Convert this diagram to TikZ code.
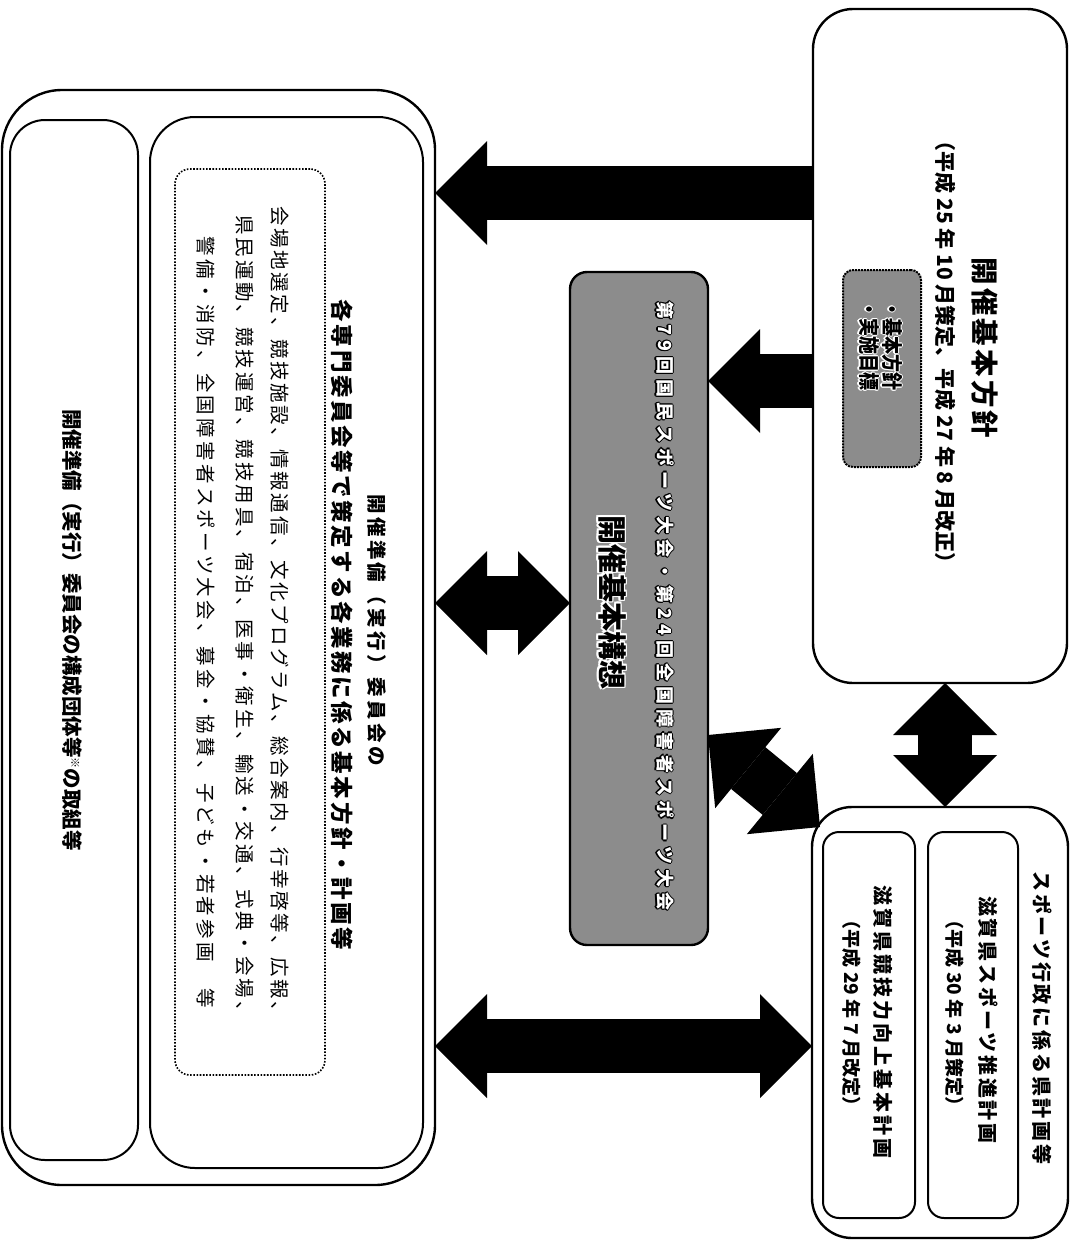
\documentclass[tikz,border=0pt]{standalone}
\usepackage{fontspec}
\setmainfont{Noto Sans CJK JP}
\usetikzlibrary{arrows.meta}
\newdimen\halod \newdimen\halodd
\newcommand\halo[4]{\begingroup\halod=#1\relax\halodd=0.7\halod
 \setbox0=\hbox{#4}%
 \def\hc##1##2{\rlap{\raisebox{##2}{\kern##1\textcolor{#2}{\copy0}}}}%
 \hc{\halod}{0pt}\hc{-\halod}{0pt}\hc{0pt}{\halod}\hc{0pt}{-\halod}%
 \hc{\halodd}{\halodd}\hc{-\halodd}{\halodd}\hc{\halodd}{-\halodd}\hc{-\halodd}{-\halodd}%
 \textcolor{#3}{\copy0}\endgroup}
\begin{document}
\begin{tikzpicture}[x=1pt,y=-1pt,
  box/.style={draw=black, line width=2.4pt, rounded corners=#1, inner sep=0pt, outer sep=0pt},
  box/.default=40pt,
  ibox/.style={box=#1, line width=2pt},
  gbox/.style={draw=black, line width=2pt, densely dotted, fill=black!45, rounded corners=10pt, inner sep=0pt, outer sep=0pt},
  cbox/.style={draw=black, line width=2.4pt, fill=black!45, rounded corners=17pt, inner sep=0pt, outer sep=0pt},
  dbox/.style={draw=black, line width=1.6pt, dash pattern=on 1.6pt off 1.6pt, rounded corners=15pt, inner sep=0pt, outer sep=0pt},
  txt/.style={rotate=-90, inner sep=0pt, font=\fontsize{#1}{#1}\selectfont},
  btxt/.style={rotate=-90, inner sep=0pt, font=\fontsize{#1}{#1}\bfseries\selectfont},
  lt/.style 2 args={rotate=-90, inner sep=0pt, font=\fontsize{#1}{#1}\selectfont\addfontfeatures{LetterSpace=#2}},
  blt/.style 2 args={rotate=-90, inner sep=0pt, font=\fontsize{#1}{#1}\bfseries\selectfont\addfontfeatures{LetterSpace=#2}},
  fat/.style={draw=black, line width=54pt},
  onearrow/.style={fat, -{Triangle[length=52pt,width=104pt,line width=0pt]}},
  twoarrow/.style={fat, {Triangle[length=52pt,width=104pt,line width=0pt]}-{Triangle[length=52pt,width=104pt,line width=0pt]}}
]
\useasboundingbox (0,0) rectangle (1077,1242);

% ---- boxes
\node[box=40pt, minimum width=254pt, minimum height=674pt] (TR) at (940,346) {};
\node[gbox, minimum width=78pt, minimum height=197pt] (G) at (882,368.5) {};
\node[box=40pt, minimum width=256pt, minimum height=431pt] (BR) at (940,1022.5) {};
\node[ibox=16pt, minimum width=90pt, minimum height=386pt] (I1) at (973,1025) {};
\node[ibox=16pt, minimum width=92pt, minimum height=386pt] (I2) at (869,1025) {};
\node[cbox, minimum width=138pt, minimum height=673pt] (C) at (639,608.5) {};
\node[box=60pt, minimum width=433pt, minimum height=1095pt] (LB) at (218.5,637.5) {};
\node[ibox=35pt, minimum width=128pt, minimum height=1040pt] (A) at (74,640) {};
\node[ibox=45pt, minimum width=273pt, minimum height=1051pt] (B) at (286.5,642.5) {};
\node[dbox, minimum width=150pt, minimum height=906pt] (D) at (250,622) {};

% ---- texts
\node[blt={27.5}{11}] (trT) at (985,348) {開催基本方針};
\node[btxt=21] (trS) at (945,352) {（平成 25 年 10 月策定、平成 27 年 8 月改正）};
\node[btxt=21, anchor=west] (g1) at (892,300) {\scalebox{0.86}[1]{\halo{1.2pt}{white}{black}{・基本方針}}};
\node[btxt=21, anchor=west] (g2) at (869,300) {\scalebox{0.86}[1]{\halo{1.2pt}{white}{black}{・実施目標}}};

\node[blt={18}{27.5}] (cT) at (665,606) {\halo{1.2pt}{black}{white}{第79回国民スポーツ大会・第24回全国障害者スポーツ大会}};
\node[btxt=29] (cM) at (612,602) {\halo{1.6pt}{white}{black}{開催基本構想}};

\node[blt={20}{14}] (brT) at (1042,1018) {スポーツ行政に係る県計画等};
\node[blt={20}{14}] (i1T) at (988,1020) {滋賀県スポーツ推進計画};
\node[btxt=19] (i1S) at (955,1013) {（平成 30 年 3 月策定）};
\node[blt={20}{15}] (i2T) at (883,1022) {滋賀県競技力向上基本計画};
\node[btxt=19] (i2S) at (852,1013) {（平成 29 年 7 月改定）};

\node[blt={19.5}{17.5}] (h1) at (377,630) {開催準備（実行）委員会の};
\node[blt={22.5}{11.6}] (h2) at (342,625) {各専門委員会等で策定する各業務に係る基本方針・計画等};
\node[lt={19.5}{13.4}] (l1) at (280,614) {会場地選定、競技施設、情報通信、文化プログラム、総合案内、行幸啓等、広報、};
\node[lt={19.5}{15.2}] (l2) at (245,618) {県民運動、競技運営、競技用具、宿泊、医事・衛生、輸送・交通、式典・会場、};
\node[lt={19.5}{16.9}] (l3) at (206,622) {警備・消防、全国障害者スポーツ大会、募金・協賛、子ども・若者参画　等};
\node[btxt=20.5] (aT) at (72,630) {開催準備（実行）委員会の構成団体等{\fontsize{11}{11}\selectfont\raisebox{7pt}{※}}の取組等};

% ---- arrows
\draw[onearrow] (TR.west |- 0,193) -- (LB.east |- 0,193);
\draw[onearrow] (TR.west |- 0,381) -- (C.east |- 0,381);
\draw[twoarrow] (LB.east |- 0,603) -- (C.west |- 0,603);
\draw[twoarrow] (TR.south -| 945,0) -- (BR.north -| 945,0);
\coordinate (eEnd) at (820,827);
\draw[twoarrow] (C.east |- 0,735) -- (eEnd);
\draw[twoarrow] (LB.east |- 0,1046) -- (BR.west |- 0,1046);
\end{tikzpicture}
\end{document}
